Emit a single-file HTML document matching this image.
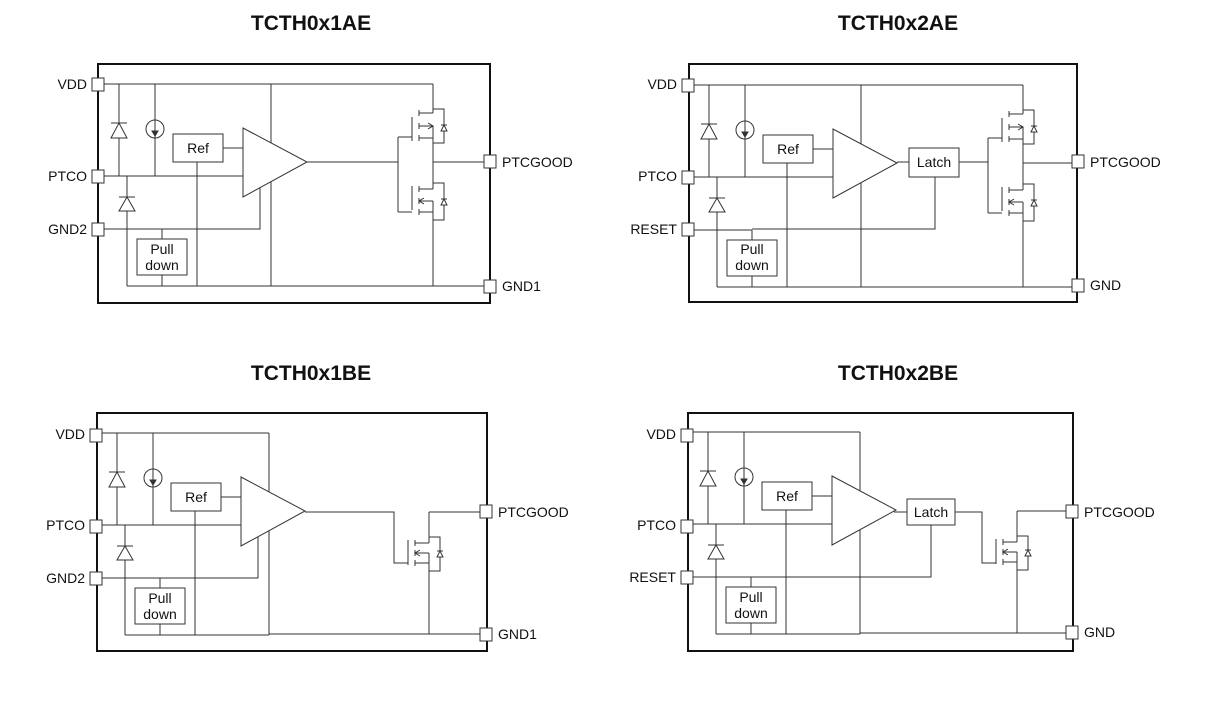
<!DOCTYPE html>
<html><head><meta charset="utf-8"><style>
html,body{margin:0;padding:0;background:#fff;}
svg{display:block;}
text{font-family:"Liberation Sans",Arial,sans-serif;fill:#111;}
.t{font-size:21px;font-weight:bold;text-anchor:middle;}
.l{font-size:14px;}
.r{text-anchor:end;}
.c{text-anchor:middle;}
</style></head><body>
<svg width="1211" height="720" viewBox="0 0 1211 720" xmlns="http://www.w3.org/2000/svg">
<defs>
<g id="L" fill="none" stroke="#333" stroke-width="1">
  <line x1="104" y1="84" x2="271" y2="84"/>
  <line x1="119" y1="84" x2="119" y2="176"/>
  <polygon points="111,138 127,138 119,123" fill="#fff"/>
  <line x1="111" y1="123" x2="127" y2="123"/>
  <line x1="155" y1="84" x2="155" y2="176"/>
  <circle cx="155" cy="129" r="9" fill="#fff"/>
  <line x1="155" y1="120" x2="155" y2="138"/>
  <polygon points="152,131 158,131 155,136" fill="#333"/>
  <rect x="173" y="134" width="50" height="28" fill="#fff"/>
  <line x1="223" y1="148" x2="243" y2="148"/>
  <line x1="104" y1="176" x2="243" y2="176"/>
  <line x1="127" y1="176" x2="127" y2="286"/>
  <polygon points="119,211 135,211 127,197" fill="#fff"/>
  <line x1="119" y1="197" x2="135" y2="197"/>
  <line x1="197" y1="162" x2="197" y2="286"/>
  <line x1="162" y1="229" x2="162" y2="239"/>
  <line x1="162" y1="275" x2="162" y2="286"/>
  <rect x="137" y="239" width="50" height="36" fill="#fff"/>
  <line x1="271" y1="84" x2="271" y2="286"/>
  <polygon points="243,128 243,197 307,162" fill="#fff"/>
  <line x1="104" y1="229" x2="162" y2="229"/>
  <line x1="127" y1="286" x2="271" y2="286"/>
</g>
<g id="CMOS" fill="none" stroke="#333" stroke-width="1">
  <line x1="433" y1="84" x2="433" y2="113"/>
  <line x1="419" y1="113" x2="433" y2="113"/>
  <line x1="419" y1="126" x2="433" y2="126"/>
  <polyline points="428,123 433,126 428,129"/>
  <line x1="419" y1="138" x2="433" y2="138"/>
  <line x1="419" y1="110" x2="419" y2="116"/>
  <line x1="419" y1="123" x2="419" y2="129"/>
  <line x1="419" y1="135" x2="419" y2="141"/>
  <line x1="412" y1="117" x2="412" y2="141"/>
  <line x1="433" y1="126" x2="433" y2="189"/>
  <polyline points="433,109 444,109 444,143 433,143"/>
  <polygon points="441,131 447,131 444,125" fill="#fff"/>
  <line x1="441" y1="125" x2="447" y2="125"/>
  <line x1="398" y1="137" x2="412" y2="137"/>
  <line x1="398" y1="137" x2="398" y2="212"/>
  <line x1="398" y1="212" x2="412" y2="212"/>
  <line x1="412" y1="186" x2="412" y2="210"/>
  <line x1="419" y1="189" x2="433" y2="189"/>
  <line x1="419" y1="201" x2="433" y2="201"/>
  <polyline points="424,198 419,201 424,204"/>
  <line x1="419" y1="212" x2="433" y2="212"/>
  <line x1="419" y1="186" x2="419" y2="192"/>
  <line x1="419" y1="198" x2="419" y2="204"/>
  <line x1="419" y1="209" x2="419" y2="215"/>
  <line x1="433" y1="201" x2="433" y2="286"/>
  <polyline points="433,183 444,183 444,220 433,220"/>
  <polygon points="441,205 447,205 444,199" fill="#fff"/>
  <line x1="441" y1="199" x2="447" y2="199"/>
  <line x1="433" y1="162" x2="484" y2="162"/>
  <line x1="271" y1="84" x2="433" y2="84"/>
  <line x1="271" y1="286" x2="484" y2="286"/>
</g>
<g id="NM" fill="none" stroke="#333" stroke-width="1">
  <line x1="429" y1="512" x2="480" y2="512"/>
  <line x1="429" y1="512" x2="429" y2="543"/>
  <line x1="408" y1="540" x2="408" y2="565"/>
  <line x1="415" y1="543" x2="429" y2="543"/>
  <line x1="415" y1="553" x2="429" y2="553"/>
  <polyline points="420,550 415,553 420,556"/>
  <line x1="415" y1="563" x2="429" y2="563"/>
  <line x1="415" y1="540" x2="415" y2="546"/>
  <line x1="415" y1="550" x2="415" y2="556"/>
  <line x1="415" y1="560" x2="415" y2="566"/>
  <line x1="429" y1="553" x2="429" y2="634"/>
  <polyline points="429,537 440,537 440,571 429,571"/>
  <polygon points="437,557 443,557 440,551" fill="#fff"/>
  <line x1="437" y1="551" x2="443" y2="551"/>
</g>
</defs>

<!-- titles -->
<text class="t" x="311" y="30">TCTH0x1AE</text>
<text class="t" x="898" y="30">TCTH0x2AE</text>
<text class="t" x="311" y="380">TCTH0x1BE</text>
<text class="t" x="898" y="380">TCTH0x2BE</text>

<!-- TL -->
<rect x="98" y="64" width="392" height="239" fill="none" stroke="#111" stroke-width="2"/>
<use href="#L"/>
<use href="#CMOS"/>
<g fill="none" stroke="#333">
  <polyline points="162,229 260,229 260,188"/>
  <line x1="307" y1="162" x2="398" y2="162"/>
</g>
<g fill="#fff" stroke="#333">
  <rect x="92" y="78" width="12" height="13"/><rect x="92" y="170" width="12" height="13"/><rect x="92" y="223" width="12" height="13"/>
  <rect x="484" y="155" width="12" height="13"/><rect x="484" y="280" width="12" height="13"/>
</g>
<text class="l r" x="87" y="89">VDD</text>
<text class="l r" x="87" y="181">PTCO</text>
<text class="l r" x="87" y="234">GND2</text>
<text class="l" x="502" y="167">PTCGOOD</text>
<text class="l" x="502" y="291">GND1</text>
<text class="l c" x="198" y="153">Ref</text>
<text class="l c" x="162" y="254">Pull</text>
<text class="l c" x="162" y="270">down</text>

<!-- TR -->
<rect x="689" y="64" width="388" height="238" fill="none" stroke="#111" stroke-width="2"/>
<g transform="translate(590,1)">
  <use href="#L"/>
  <use href="#CMOS"/>
  <g fill="none" stroke="#333">
    <polyline points="162,228 345,228 345,176"/>
    <line x1="307" y1="161" x2="319" y2="161"/>
    <line x1="369" y1="161" x2="398" y2="161"/>
    <rect x="319" y="147" width="50" height="29" fill="#fff"/>
  </g>
  <g fill="#fff" stroke="#333">
    <rect x="92" y="78" width="12" height="13"/><rect x="92" y="170" width="12" height="13"/><rect x="92" y="222" width="12" height="13"/>
    <rect x="482" y="154" width="12" height="13"/><rect x="482" y="278" width="12" height="13"/>
  </g>
  <text class="l r" x="87" y="88">VDD</text>
  <text class="l r" x="87" y="180">PTCO</text>
  <text class="l r" x="87" y="233">RESET</text>
  <text class="l" x="500" y="166">PTCGOOD</text>
  <text class="l" x="500" y="289">GND</text>
  <text class="l c" x="198" y="153">Ref</text>
  <text class="l c" x="162" y="253">Pull</text>
  <text class="l c" x="162" y="269">down</text>
  <text class="l c" x="344" y="166">Latch</text>
</g>

<!-- BL -->
<rect x="97" y="413" width="390" height="238" fill="none" stroke="#111" stroke-width="2"/>
<g transform="translate(-2,349)">
  <use href="#L"/>
  <g fill="none" stroke="#333">
    <polyline points="162,229 260,229 260,188"/>
    <line x1="271" y1="285" x2="484" y2="285"/>
  </g>
  <g fill="#fff" stroke="#333">
    <rect x="92" y="80" width="12" height="13"/><rect x="92" y="171" width="12" height="13"/><rect x="92" y="223" width="12" height="13"/>
  </g>
  <text class="l r" x="87" y="90">VDD</text>
  <text class="l r" x="87" y="181">PTCO</text>
  <text class="l r" x="87" y="234">GND2</text>
  <text class="l c" x="198" y="153">Ref</text>
  <text class="l c" x="162" y="254">Pull</text>
  <text class="l c" x="162" y="270">down</text>
</g>
<use href="#NM"/>
<g fill="none" stroke="#333">
  <polyline points="305,512 394,512 394,563 408,563"/>
</g>
<g fill="#fff" stroke="#333">
  <rect x="480" y="505" width="12" height="13"/><rect x="480" y="628" width="12" height="13"/>
</g>
<text class="l" x="498" y="517">PTCGOOD</text>
<text class="l" x="498" y="639">GND1</text>

<!-- BR -->
<rect x="688" y="413" width="385" height="238" fill="none" stroke="#111" stroke-width="2"/>
<g transform="translate(589,348)">
  <use href="#L"/>
  <g fill="none" stroke="#333">
    <polyline points="162,229 342,229 342,177"/>
    <line x1="305" y1="164" x2="318" y2="164"/>
    <rect x="318" y="151" width="48" height="26" fill="#fff"/>
    <line x1="271" y1="285" x2="478" y2="285"/>
  </g>
  <g fill="#fff" stroke="#333">
    <rect x="92" y="81" width="12" height="13"/><rect x="92" y="172" width="12" height="13"/><rect x="92" y="223" width="12" height="13"/>
  </g>
  <text class="l r" x="87" y="91">VDD</text>
  <text class="l r" x="87" y="182">PTCO</text>
  <text class="l r" x="87" y="234">RESET</text>
  <text class="l c" x="198" y="153">Ref</text>
  <text class="l c" x="162" y="254">Pull</text>
  <text class="l c" x="162" y="270">down</text>
  <text class="l c" x="342" y="169">Latch</text>
</g>
<g transform="translate(588,-1)">
  <use href="#NM"/>
  <g fill="none" stroke="#333">
    <polyline points="367,513 394,513 394,564 408,564"/>
  </g>
  <g fill="#fff" stroke="#333">
    <rect x="478" y="506" width="12" height="13"/><rect x="478" y="627" width="12" height="13"/>
  </g>
  <text class="l" x="496" y="518">PTCGOOD</text>
  <text class="l" x="496" y="638">GND</text>
</g>
</svg>
</body></html>
